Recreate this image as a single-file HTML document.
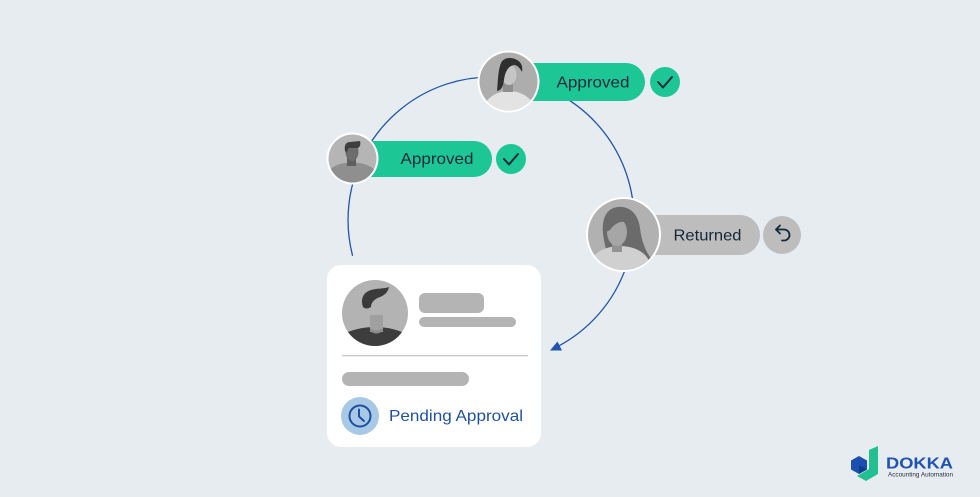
<!DOCTYPE html>
<html>
<head>
<meta charset="utf-8">
<style>
  html,body{margin:0;padding:0;}
  body{width:980px;height:497px;background:#e7ecf1;overflow:hidden;}
  svg{display:block;}
  text{font-family:"Liberation Sans",Arial,sans-serif;}
</style>
</head>
<body>
<svg width="980" height="497" viewBox="0 0 980 497" xmlns="http://www.w3.org/2000/svg">
  <defs>
    <clipPath id="cTop"><circle cx="508.5" cy="81.5" r="29"/></clipPath>
    <clipPath id="cLeft"><circle cx="352.5" cy="158.5" r="24"/></clipPath>
    <clipPath id="cRight"><circle cx="623.5" cy="234.5" r="35.5"/></clipPath>
    <clipPath id="cCard"><circle cx="375" cy="313" r="33"/></clipPath>
  </defs>
  <rect width="980" height="497" fill="#e7ecf1"/>

  <!-- main arc -->
  <path d="M352.6 255.8 A143 143 0 1 1 552.1 349.3" fill="none" stroke="#1f55aa" stroke-width="1.3"/>
  <polygon points="550,350.5 562,350.5 557.5,341.5" fill="#1f55aa"/>

  <!-- top pill -->
  <rect x="508" y="63" width="137" height="38" rx="19" fill="#1dc795"/>
  <text x="593" y="87.5" font-size="16" font-weight="500" fill="#14283a" text-anchor="middle" textLength="73" lengthAdjust="spacingAndGlyphs">Approved</text>
  <circle cx="665" cy="82" r="15" fill="#1dc795"/>
  <polyline points="658,82 663,87.5 672,77" fill="none" stroke="#14283a" stroke-width="2" stroke-linecap="round" stroke-linejoin="round"/>

  <!-- top avatar -->
  <circle cx="508.5" cy="81.5" r="31" fill="#ffffff"/>
  <circle cx="508.5" cy="81.5" r="29" fill="#adadad"/>
  <g clip-path="url(#cTop)">
    <ellipse cx="509" cy="114" rx="27" ry="23" fill="#e3e3e3"/>
    <rect x="503" y="80" width="10" height="12" fill="#8e8e8e"/>
    <ellipse cx="509" cy="75" rx="7.5" ry="10" fill="#c5c5c5"/>
    <path d="M497 91 C498 80 498 70 501 63 C504 57 512 57 517 60 C521 62 523 66 522 72 C520 68 517 65 514 65 C508 66 505 72 504 80 C503 86 502 90 497 91 Z" fill="#2f2f2f"/>
  </g>

  <!-- left pill -->
  <rect x="352" y="141" width="140" height="36" rx="18" fill="#1dc795"/>
  <text x="437" y="164" font-size="16" font-weight="500" fill="#14283a" text-anchor="middle" textLength="73" lengthAdjust="spacingAndGlyphs">Approved</text>
  <circle cx="511" cy="159" r="15" fill="#1dc795"/>
  <polyline points="504,159 509,164.5 518,154" fill="none" stroke="#14283a" stroke-width="2" stroke-linecap="round" stroke-linejoin="round"/>

  <!-- left avatar -->
  <circle cx="352.5" cy="158.5" r="26" fill="#ffffff"/>
  <circle cx="352.5" cy="158.5" r="24" fill="#b5b5b5"/>
  <g clip-path="url(#cLeft)">
    <path d="M328 185 L328 172 C332 166 340 163 352 162 C364 163 372 166 377 172 L377 185 Z" fill="#8f8f8f"/>
    <rect x="347" y="155" width="9" height="11" fill="#5f5f5f"/>
    <ellipse cx="352" cy="152" rx="6.5" ry="9" fill="#6d6d6d"/>
    <path d="M345 151 C344 145 346 142 350 142 L360 141 C361 144 360 147 358 148 L349 148 C348 149 347 150 347 153 Z" fill="#3e3e3e"/>
  </g>

  <!-- right pill -->
  <rect x="623" y="215" width="137" height="40" rx="20" fill="#bdbdbd"/>
  <text x="707.5" y="240.5" font-size="16" font-weight="500" fill="#14283a" text-anchor="middle" textLength="68" lengthAdjust="spacingAndGlyphs">Returned</text>
  <circle cx="782" cy="235" r="19" fill="#bdbdbd"/>
  <path d="M776 229.5 h8 a5.5 5.5 0 0 1 0 11 h-2" fill="none" stroke="#14283a" stroke-width="1.8" stroke-linecap="round"/>
  <polyline points="780,225.5 776,229.5 780,233.5" fill="none" stroke="#14283a" stroke-width="1.8" stroke-linecap="round" stroke-linejoin="round"/>

  <!-- right avatar -->
  <circle cx="623.5" cy="234.5" r="37.5" fill="#ffffff"/>
  <circle cx="623.5" cy="234.5" r="35.5" fill="#b1b1b1"/>
  <g clip-path="url(#cRight)">
    <path d="M604 240 C600 220 606 208 618 207 C630 206 638 214 640 228 C642 245 648 258 660 268 L640 275 L606 250 Z" fill="#6b6b6b"/>
    <ellipse cx="620" cy="266" rx="30" ry="20" fill="#d0d0d0"/>
    <rect x="612" y="238" width="10" height="14" fill="#939393"/>
    <ellipse cx="617" cy="232" rx="10" ry="14" fill="#a6a6a6"/>
    <path d="M606 232 C604 218 612 211 621 212 C628 213 631 218 631 224 C625 220 616 221 610 230 Z" fill="#6b6b6b"/>
  </g>

  <!-- card -->
  <rect x="327" y="265" width="214" height="182" rx="14" fill="#ffffff"/>
  <circle cx="375" cy="313" r="33" fill="#b3b3b3"/>
  <g clip-path="url(#cCard)">
    <path d="M340 350 L340 336 C350 330 362 327 375 327 C388 327 400 330 410 336 L410 350 Z" fill="#3d3d3d"/>
    <rect x="370" y="315" width="13" height="17" fill="#a0a0a0"/>
    <path d="M370 328 Q376 333 383 328 L383 331 Q376 336 370 331 Z" fill="#8c8c8c"/>
    <path d="M363 307 C360 298 364 292 371 290 C377 288 383 289 389 287 C388 292 385 295 380 297 C374 299 371 303 371 307 C368 309 365 309 363 307 Z" fill="#3b3b3b"/>
  </g>
  <rect x="419" y="293" width="65" height="20" rx="6" fill="#b4b4b4"/>
  <rect x="419" y="317" width="97" height="10" rx="5" fill="#b4b4b4"/>
  <rect x="342" y="355" width="186" height="1.3" fill="#c9c9c9"/>
  <rect x="342" y="372" width="127" height="14" rx="7" fill="#b4b4b4"/>
  <circle cx="360" cy="416" r="19" fill="#a7c9e6"/>
  <circle cx="360" cy="416" r="10.5" fill="none" stroke="#1d4f9e" stroke-width="2"/>
  <polyline points="359,409.5 359,416.5 364,421" fill="none" stroke="#1d4f9e" stroke-width="2" stroke-linecap="round" stroke-linejoin="round"/>
  <text x="389" y="421" font-size="16" font-weight="500" fill="#1f51a3" textLength="134" lengthAdjust="spacingAndGlyphs">Pending Approval</text>

  <!-- logo -->
  <polygon points="869,450 878,446 878,474 866,481 857,476 869,469" fill="#22c08f"/>
  <polygon points="859,456 867,460.5 867,469.5 859,474 851,469.5 851,460.5" fill="#1a4fb0"/>
  <polygon points="859,465 867,469.5 859,474" fill="#0f3c8c"/>
  <text x="886" y="468.5" font-size="15.5" font-weight="bold" fill="#1f54b4" textLength="67" lengthAdjust="spacingAndGlyphs">DOKKA</text>
  <text x="888" y="476.5" font-size="6" fill="#1b2a3a" textLength="65" lengthAdjust="spacingAndGlyphs">Accounting Automation</text>
</svg>
</body>
</html>
